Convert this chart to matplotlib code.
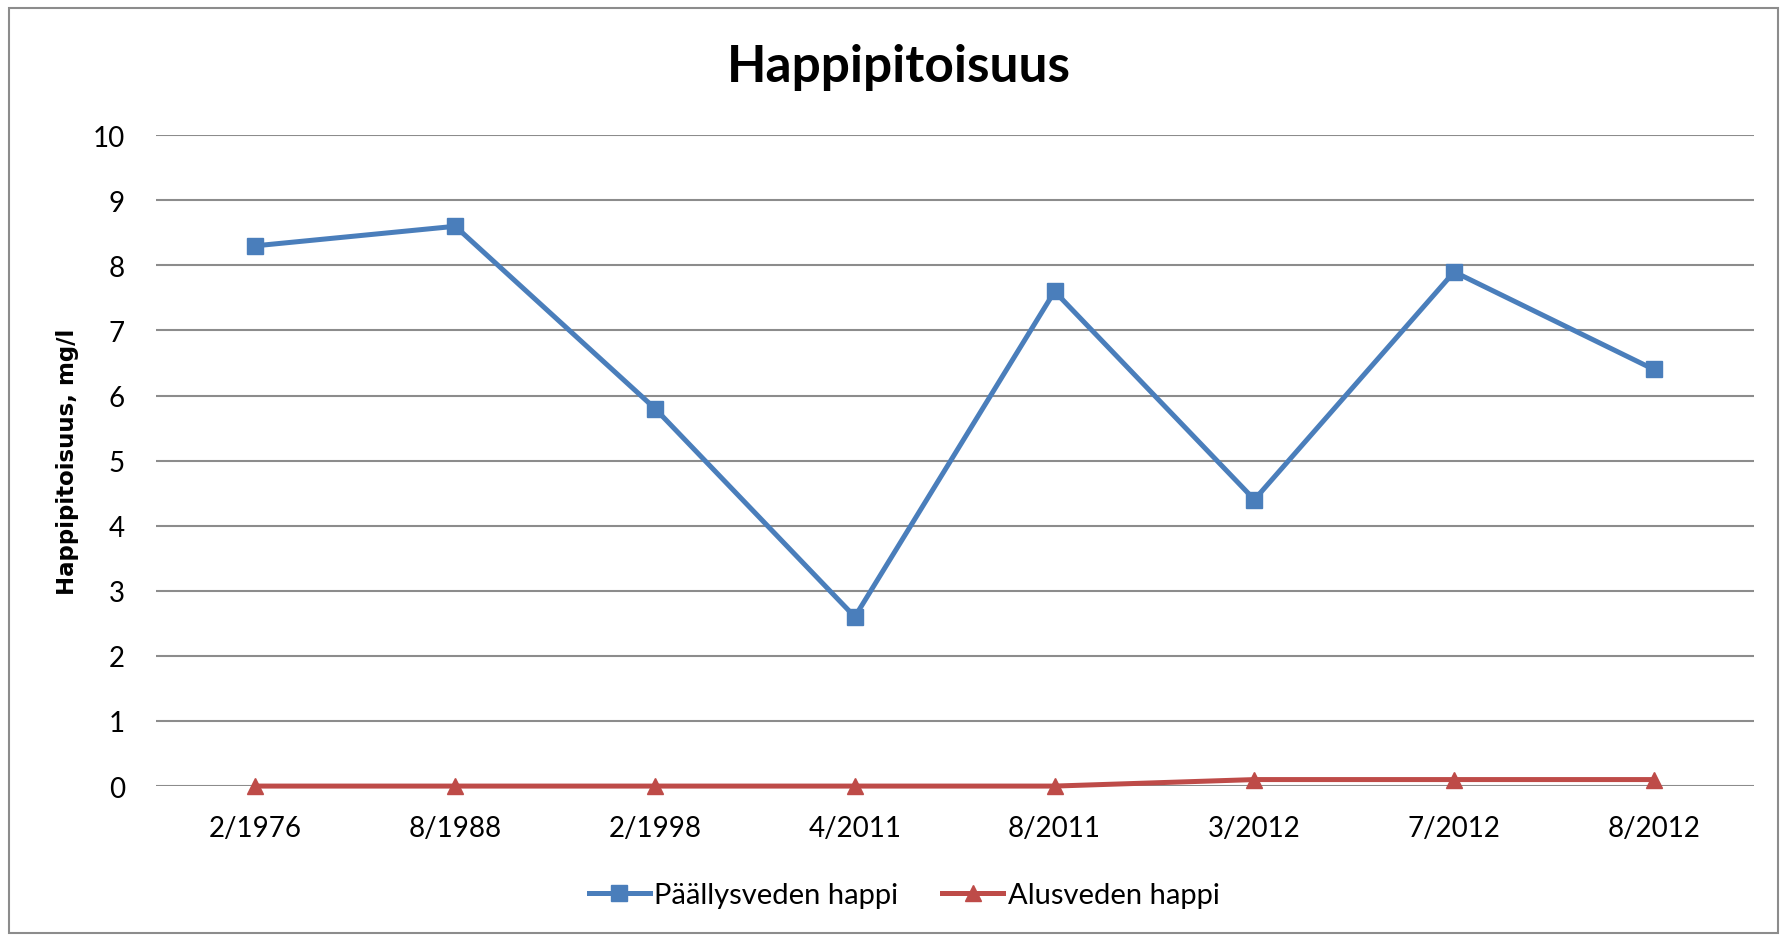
import matplotlib
matplotlib.use("Agg")
import matplotlib.pyplot as plt
from matplotlib.patches import Rectangle

categories = ["2/1976", "8/1988", "2/1998", "4/2011", "8/2011", "3/2012", "7/2012", "8/2012"]
paallys = [8.3, 8.6, 5.8, 2.6, 7.6, 4.4, 7.9, 6.4]
alus = [0, 0, 0, 0, 0, 0.1, 0.1, 0.1]
yticks = list(range(0, 11))

fig = plt.figure(figsize=(17.8, 9.37), dpi=100)
ax = fig.add_axes([0.0874, 0.160, 0.8979, 0.6947])

x = list(range(len(categories)))
ax.plot(x, paallys, color="#4a7ebb", lw=3.6, marker="s", markersize=11,
        label="Päällysveden happi", zorder=3)
ax.plot(x, alus, color="#be4b48", lw=3.6, marker="^", markersize=11,
        label="Alusveden happi", zorder=3)

ax.set_xlim(-0.5, len(categories) - 0.5)
ax.set_ylim(0, 10)
ax.set_yticks(yticks)
ax.set_yticklabels([str(v) for v in yticks], fontfamily="Lato", fontsize=20)
ax.set_xticks(x)
ax.set_xticklabels(categories, fontfamily="Lato", fontsize=20)
ax.tick_params(axis="x", length=0, pad=21)
ax.tick_params(axis="y", length=0, pad=22)
ax.yaxis.grid(True, color="#8c8c8c", lw=1.5)
ax.set_axisbelow(True)
for s in ax.spines.values():
    s.set_visible(False)
for ln in ax.lines:
    ln.set_clip_on(False)

ax.set_ylabel("Happipitoisuus, mg/l", fontfamily="DejaVu Sans", fontweight="bold",
              fontsize=16.5, labelpad=10)

fig.text(0.505, 0.928, "Happipitoisuus", ha="center", va="center",
         fontfamily="Lato", fontweight="bold", fontsize=37)

leg = fig.legend(loc="center", bbox_to_anchor=(0.508, 0.044), ncol=2, frameon=False,
                 prop={"family": "Lato", "size": 21}, handlelength=2.1,
                 columnspacing=1.5, handletextpad=0.15)

fig.patches.append(Rectangle((0.005, 0.003), 0.994, 0.987, transform=fig.transFigure,
                             fill=False, edgecolor="#8c8c8c", lw=1.5))

fig.savefig("out.png", dpi=100)
